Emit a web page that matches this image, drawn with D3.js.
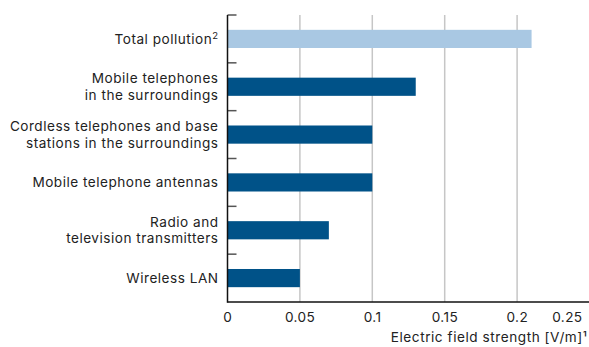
<!DOCTYPE html>
<html>
<head>
<meta charset="utf-8">
<script src="https://cdn.jsdelivr.net/npm/d3@7"></script>
<style>
  html, body { margin: 0; padding: 0; background: #fff; }
  svg { display: block; font-family: Inter, "Open Sans", sans-serif; }
</style>
</head>
<body>
<svg id="chart" width="589" height="347"></svg>
<script>
// Sources of electric field exposure, in V/m
const categories = [
  ["Total pollution"],
  ["Mobile telephones", "in the surroundings"],
  ["Cordless telephones and base", "stations in the surroundings"],
  ["Mobile telephone antennas"],
  ["Radio and", "television transmitters"],
  ["Wireless LAN"]
];
const values = [0.21, 0.13, 0.10, 0.10, 0.07, 0.05];
const isTotal = [true, false, false, false, false, false];
const xTicks = [0, 0.05, 0.1, 0.15, 0.2, 0.25];
const xTickLabels = ["0", "0.05", "0.1", "0.15", "0.2", "0.25"];
const xTitle = "Electric field strength [V/m]¹";

(function () {
  const svg = d3.select("#chart");
  const mLeft = 227.5, mRight = 589.5, mTop = 15, mBottom = 302;

  const x = d3.scaleLinear().domain([0, 0.25]).range([mLeft, mRight]);
  const y = d3.scaleBand().domain(d3.range(categories.length)).range([mTop, mBottom])
    .paddingInner(0.62).paddingOuter(0.31);

  // vertical gridlines
  svg.append("g").selectAll("line")
    .data(xTicks.filter(d => d > 0 && d < 0.25))
    .join("line")
    .attr("x1", d => x(d)).attr("x2", d => x(d))
    .attr("y1", mTop).attr("y2", mBottom)
    .attr("stroke", "#c6c6c6").attr("stroke-width", 1.5);

  // bars
  svg.append("g").selectAll("rect")
    .data(values)
    .join("rect")
    .attr("x", x(0))
    .attr("y", (d, i) => y(i))
    .attr("width", d => x(d) - x(0))
    .attr("height", y.bandwidth())
    .attr("fill", (d, i) => isTotal[i] ? "#a9c8e3" : "#005288");

  // band separator ticks on the category axis
  const step = (mBottom - mTop) / categories.length;
  svg.append("g").selectAll("line")
    .data(d3.range(categories.length))
    .join("line")
    .attr("x1", mLeft).attr("x2", mLeft + 9)
    .attr("y1", i => mTop + i * step).attr("y2", i => mTop + i * step)
    .attr("stroke", "#555").attr("stroke-width", 1.5);

  // axis lines
  svg.append("line").attr("x1", mLeft).attr("x2", mLeft).attr("y1", mTop).attr("y2", mBottom + 0.75)
    .attr("stroke", "#111").attr("stroke-width", 1.5);
  svg.append("line").attr("x1", mLeft).attr("x2", 589).attr("y1", mBottom).attr("y2", mBottom)
    .attr("stroke", "#111").attr("stroke-width", 1.5);

  // category labels, one text element per line
  const lineH = 16.5;
  const labels = svg.append("g").attr("font-size", 13.6).attr("letter-spacing", 0.5)
    .attr("fill", "#222").attr("text-anchor", "end");
  categories.forEach((lines, i) => {
    const cy = y(i) + y.bandwidth() / 2;
    lines.forEach((ln, j) => {
      const t = labels.append("text").attr("x", 218.5)
        .attr("y", cy + (j - (lines.length - 1) / 2) * lineH)
        .attr("dy", "0.36em")
        .text(ln);
      if (isTotal[i] && j === lines.length - 1) {
        t.append("tspan").attr("font-size", 9.5).attr("dy", "-0.55em").text("2");
      }
    });
  });

  // x tick labels
  svg.append("g").attr("font-size", 13.6).attr("letter-spacing", 0.4).attr("fill", "#222")
    .selectAll("text")
    .data(xTicks)
    .join("text")
    .attr("x", (d, i) => i === xTicks.length - 1 ? 582.5 : x(d) + 0.2)
    .attr("y", 322)
    .attr("text-anchor", (d, i) => i === xTicks.length - 1 ? "end" : "middle")
    .text((d, i) => xTickLabels[i]);

  // x axis title
  svg.append("text")
    .attr("x", 587.5).attr("y", 342)
    .attr("text-anchor", "end")
    .attr("font-size", 13.6).attr("letter-spacing", 0.55).attr("fill", "#222")
    .text(xTitle);
})();
</script>
</body>
</html>
